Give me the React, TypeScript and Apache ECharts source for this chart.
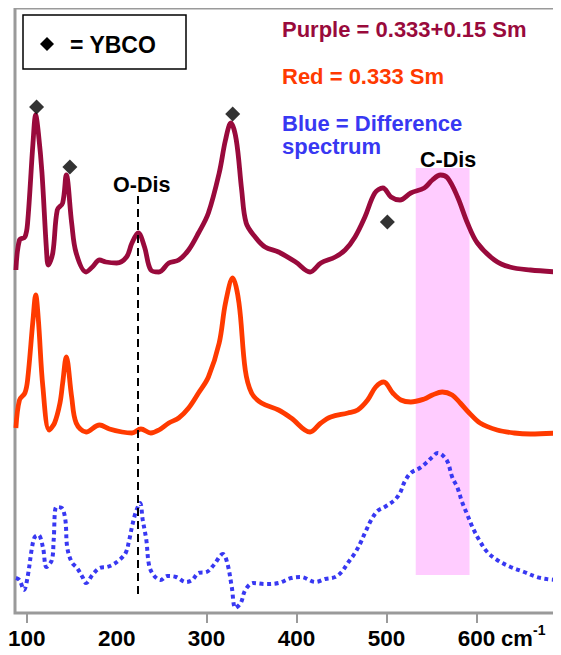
import React, { useEffect, useRef } from "react";
import * as echarts from "echarts";

// Raman shift (cm^-1) and intensity (arb. units)
const purpleShift = [88, 92, 98, 101, 107, 110, 113, 117, 122, 124, 129, 134, 140, 144, 150, 155, 166, 173, 181, 188, 200, 211, 217, 224, 231, 238, 247, 258, 269, 280, 291, 302, 314, 321, 327, 333, 339, 344, 354, 365, 380, 399, 415, 427, 443, 454, 465, 476, 487, 496, 505, 515, 527, 542, 551, 560, 568, 579, 590, 601, 620, 637, 660, 690];
const purpleIntensity = [343, 373, 376, 390, 470, 498, 480, 440, 363, 348, 360, 403, 410, 438, 390, 360, 341, 346, 353, 351, 350, 356, 370, 380, 366, 343, 341, 350, 353, 363, 380, 400, 440, 473, 490, 473, 423, 390, 376, 366, 361, 351, 341, 350, 356, 363, 376, 396, 420, 425, 416, 413, 420, 425, 433, 438, 435, 416, 390, 370, 353, 346, 343, 341];

const redShift = [88, 92, 98, 101, 107, 110, 113, 118, 125, 131, 137, 140, 144, 150, 155, 166, 181, 192, 206, 217, 227, 238, 247, 258, 269, 280, 291, 302, 314, 321, 329, 336, 343, 350, 361, 380, 394, 415, 427, 438, 457, 468, 479, 488, 497, 507, 516, 527, 542, 551, 562, 573, 582, 592, 604, 623, 642, 660, 690];
const redIntensity = [185, 213, 220, 233, 293, 318, 293, 226, 183, 190, 210, 230, 256, 216, 190, 181, 188, 184, 181, 180, 184, 180, 183, 190, 195, 205, 220, 236, 270, 310, 335, 310, 243, 220, 210, 203, 195, 181, 190, 196, 200, 203, 213, 226, 231, 220, 213, 211, 214, 218, 221, 218, 210, 200, 190, 183, 180, 179, 180];

const blueShift = [88, 92, 97, 101, 106, 109, 113, 118, 122, 128, 130, 133, 139, 143, 145, 150, 156, 162, 166, 173, 181, 189, 195, 203, 210, 214, 217, 221, 226, 229, 233, 236, 241, 249, 256, 266, 277, 284, 291, 300, 308, 318, 323, 328, 332, 338, 343, 352, 365, 380, 394, 405, 421, 432, 443, 450, 457, 465, 471, 476, 483, 490, 498, 509, 515, 520, 527, 537, 544, 551, 557, 562, 568, 573, 579, 584, 590, 596, 603, 612, 623, 638, 653, 667, 678, 690];
const blueIntensity = [35, 33, 23, 36, 66, 76, 78, 66, 46, 53, 73, 106, 105, 93, 66, 51, 45, 36, 30, 38, 45, 46, 48, 53, 60, 73, 86, 100, 110, 93, 73, 48, 38, 33, 37, 36, 31, 33, 40, 41, 48, 59, 50, 26, 5, 10, 23, 30, 29, 30, 35, 36, 31, 34, 36, 41, 50, 60, 70, 80, 93, 102, 106, 113, 120, 131, 140, 145, 150, 156, 160, 158, 151, 136, 125, 111, 98, 85, 73, 61, 53, 46, 41, 36, 34, 33];

const ybcoShift = [111, 148, 329, 501];
const ybcoIntensity = [506, 446, 499, 391];

const tickValues = [100, 300, 400, 500, 600];
const labelValues = [100, 200, 300, 400, 500, 600];

const oDisShift = 223;
const oDisRange = [19, 417];
const cDisRange = [532.5, 592.3];
const cDisIntensity = [38, 445];

const X_MIN = 87;
const X_MAX = 694;
const Y_MAX = 605;

const FONT = "'Liberation Sans', Arial, Helvetica, sans-serif";
const PURPLE = "#990a3c";
const RED = "#ff3a00";
const BLUE = "#3838f2";

const zip = (xs: number[], ys: number[]) => xs.map((x, i) => [x, ys[i]]);

export default function App() {
  const ref = useRef<HTMLDivElement>(null);

  useEffect(() => {
    if (!ref.current) return;
    const chart = echarts.init(ref.current, null, { renderer: "svg" });
    const txt = (text: string, x: number, y: number, color: string, size = 22) => ({
      type: "text",
      x,
      y,
      z: 20,
      style: {
        text,
        fill: color,
        font: `bold ${size}px ${FONT}`,
        textVerticalAlign: "middle",
        textAlign: "left",
      },
    });
    chart.setOption({
      animation: false,
      textStyle: { fontFamily: FONT },
      grid: {
        left: 15,
        right: -3,
        top: 8,
        bottom: 42,
        show: true,
        borderColor: "#9a9a9a",
        borderWidth: 3,
        backgroundColor: "transparent",
      },
      xAxis: {
        type: "value",
        min: X_MIN,
        max: X_MAX,
        axisLine: { show: false },
        splitLine: { show: false },
        axisTick: {
          show: true,
          customValues: tickValues,
          length: 10,
          lineStyle: { color: "#9a9a9a", width: 2 },
        },
        axisLabel: {
          customValues: labelValues,
          margin: 14,
          fontSize: 22.5,
          fontWeight: "bold",
          color: "#000",
          fontFamily: FONT,
        },
      },
      yAxis: { type: "value", min: 0, max: Y_MAX, show: false },
      series: [
        {
          type: "line",
          name: "Purple",
          data: zip(purpleShift, purpleIntensity),
          smooth: 0.35,
          showSymbol: false,
          symbol: "none",
          z: 2,
          lineStyle: { color: PURPLE, width: 4.8 },
          markArea: {
            silent: true,
            itemStyle: { color: "#ffccff" },
            data: [
              [
                { xAxis: cDisRange[0], yAxis: cDisIntensity[0] },
                { xAxis: cDisRange[1], yAxis: cDisIntensity[1] },
              ],
            ],
          },
        },
        {
          type: "line",
          name: "Red",
          data: zip(redShift, redIntensity),
          smooth: 0.35,
          showSymbol: false,
          symbol: "none",
          z: 3,
          lineStyle: { color: RED, width: 4.8 },
        },
        {
          type: "line",
          name: "Blue",
          data: zip(blueShift, blueIntensity),
          smooth: 0.35,
          showSymbol: false,
          symbol: "none",
          z: 3,
          lineStyle: { color: BLUE, width: 4, type: [4, 3.5], cap: "butt" },
          markLine: {
            silent: true,
            symbol: ["none", "none"],
            label: { show: false },
            lineStyle: { color: "#000", width: 2, type: [8, 5] },
            data: [
              [
                { coord: [oDisShift, oDisRange[0]] },
                { coord: [oDisShift, oDisRange[1]] },
              ],
            ],
          },
        },
        {
          type: "scatter",
          name: "YBCO",
          data: zip(ybcoShift, ybcoIntensity),
          symbol: "diamond",
          symbolSize: 15,
          z: 5,
          itemStyle: { color: "#000" },
        },
      ],
      graphic: [
        {
          type: "rect",
          shape: { x: 23, y: 15, width: 163, height: 54 },
          style: { fill: "#fff", stroke: "#000", lineWidth: 1.5 },
          z: 19,
        },
        {
          type: "polygon",
          shape: { points: [[47, 37], [54, 44], [47, 51], [40, 44]] },
          style: { fill: "#000" },
          z: 20,
        },
        txt("= YBCO", 70, 44.5, "#000", 23),
        txt("Purple = 0.333+0.15 Sm", 282, 29, PURPLE),
        txt("Red = 0.333 Sm", 282, 76, RED),
        txt("Blue = Difference", 282, 123, BLUE),
        txt("spectrum", 282, 146.5, BLUE),
        txt("O-Dis", 113, 184.5, "#000", 21.5),
        txt("C-Dis", 420, 159.5, "#000", 21.5),
        txt("cm", 501, 638.5, "#000", 22),
        txt("-1", 533, 630, "#000", 14),
      ],
    });
    return () => chart.dispose();
  }, []);

  return <div ref={ref} style={{ width: 561, height: 655, margin: -8 }} />;
}
